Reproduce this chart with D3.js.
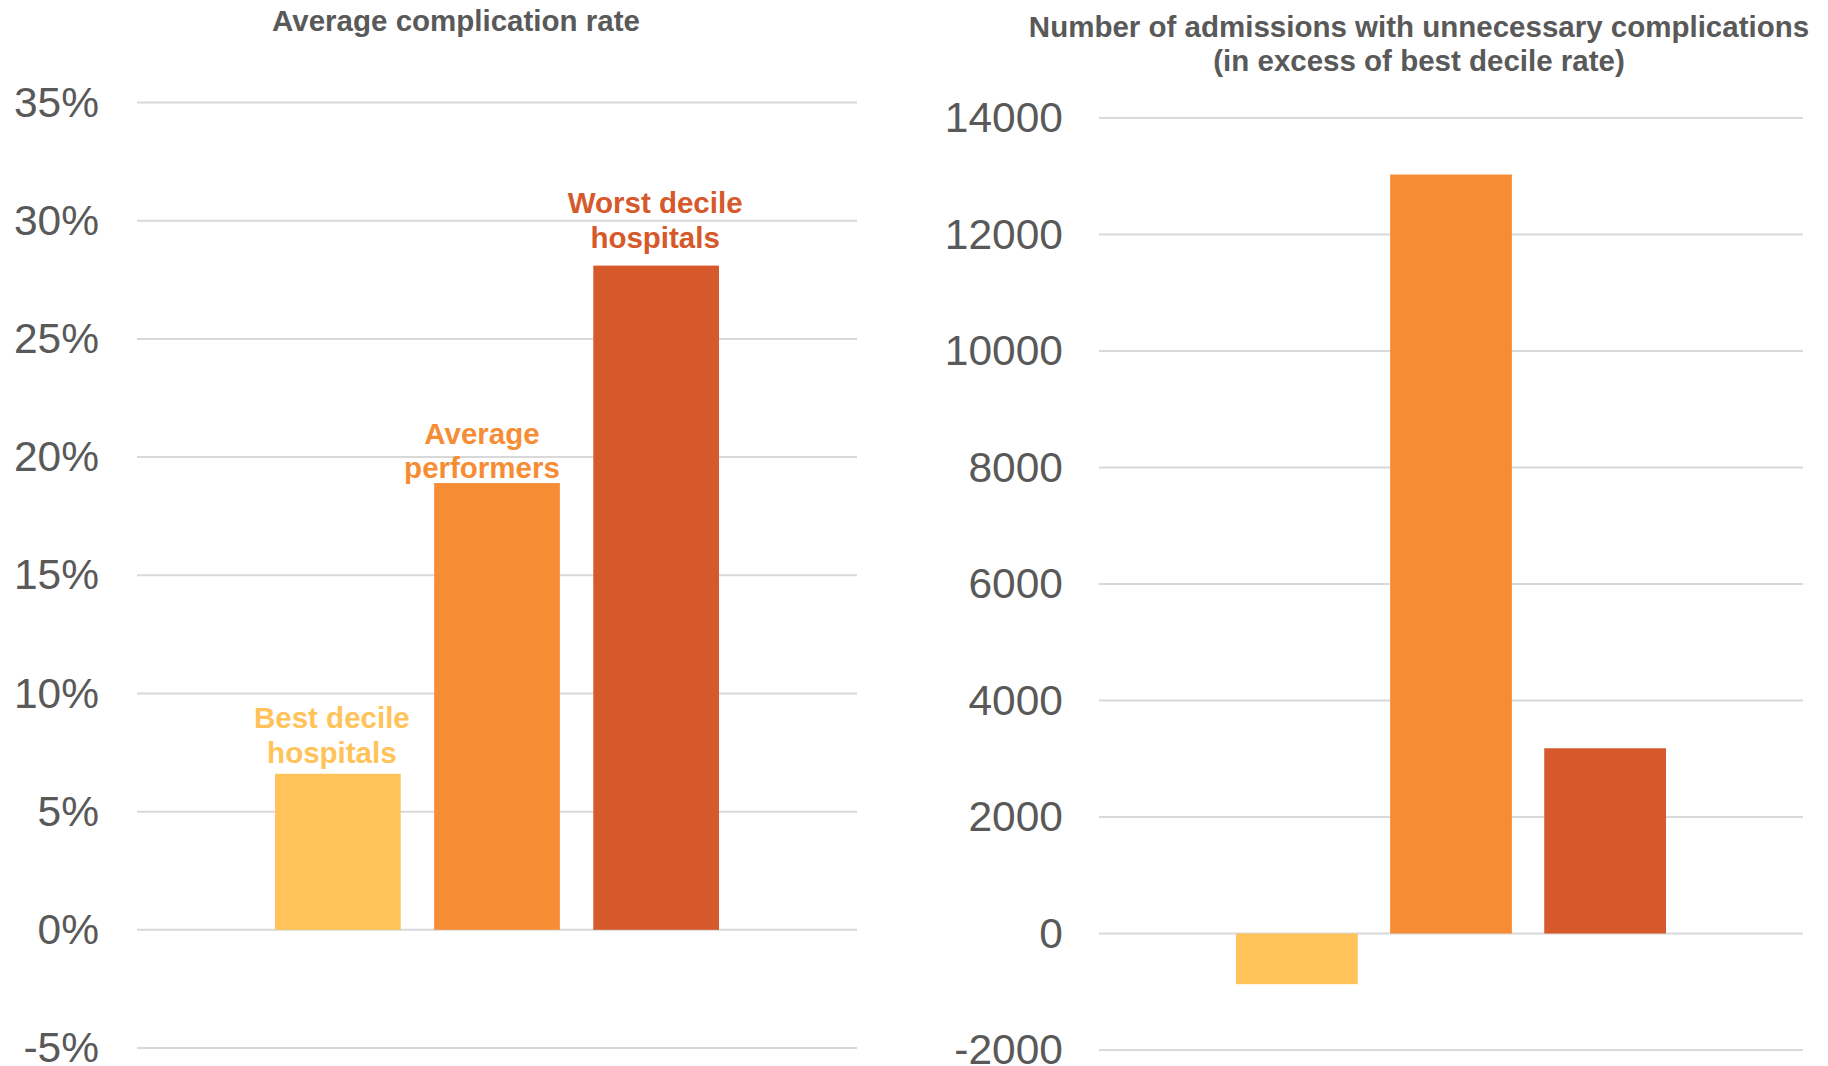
<!DOCTYPE html>
<html>
<head>
<meta charset="utf-8">
<script src="https://cdn.jsdelivr.net/npm/d3@7"></script>
<style>
  body { margin: 0; background: #fff; }
  svg { display: block; font-family: "Liberation Sans", Arial, sans-serif; }
</style>
</head>
<body>
<svg id="chart" width="1828" height="1066"></svg>
<script>
// series (one category, three hospital groups)
const seriesNames = ['Best decile hospitals', 'Average performers', 'Worst decile hospitals'];
const labelLines = [['Best decile', 'hospitals'], ['Average', 'performers'], ['Worst decile', 'hospitals']];
const seriesColors = ['#FFC35A', '#F68D35', '#D5592A'];

// left panel: average complication rate (%)
const rateValues = [6.6, 18.9, 28.1];
const rateTicks = [-5, 0, 5, 10, 15, 20, 25, 30, 35];

// right panel: admissions with unnecessary complications
const excessValues = [-870, 13030, 3180];
const excessTicks = [-2000, 0, 2000, 4000, 6000, 8000, 10000, 12000, 14000];

const textColor = '#595959';
const gridColor = '#D9D9D9';

const svg = d3.select('#chart');

// Function to draw one bar panel
function drawPanel(opts) {
  const y = d3.scaleLinear()
    .domain(d3.extent(opts.ticks))
    .range([opts.bottom, opts.top]);

  const x = d3.scaleBand()
    .domain(seriesNames)
    .range([opts.center - opts.groupWidth / 2, opts.center + opts.groupWidth / 2])
    .paddingInner(0.21)
    .paddingOuter(0);

  const g = svg.append('g');

  // gridlines
  g.selectAll('.grid')
    .data(opts.ticks)
    .enter().append('line')
      .attr('x1', opts.left)
      .attr('x2', opts.right)
      .attr('y1', d => y(d))
      .attr('y2', d => y(d))
      .attr('stroke', gridColor)
      .attr('stroke-width', 2);

  // y axis labels
  const axis = d3.axisLeft(y).tickValues(opts.ticks).tickFormat(opts.format).tickSize(0).tickPadding(0);
  const ax = g.append('g')
    .attr('transform', `translate(${opts.labelRight},0)`)
    .call(axis);
  ax.select('.domain').remove();
  ax.selectAll('text')
    .attr('fill', textColor)
    .style('font-size', '42.5px')
    .style('font-family', '"Liberation Sans", Arial, sans-serif');

  // bars
  g.selectAll('.bar')
    .data(opts.values)
    .enter().append('rect')
      .attr('x', (d, i) => x(seriesNames[i]))
      .attr('width', x.bandwidth())
      .attr('y', d => y(Math.max(0, d)))
      .attr('height', d => Math.abs(y(d) - y(0)))
      .attr('fill', (d, i) => seriesColors[i]);

  // title
  const title = g.append('text')
    .attr('x', opts.titleX)
    .attr('y', opts.titleY)
    .attr('text-anchor', 'middle')
    .attr('fill', textColor)
    .style('font-size', '29.5px')
    .style('font-weight', 'bold');
  opts.title.forEach((line, i) => {
    title.append('tspan').attr('x', opts.titleX).attr('dy', i === 0 ? 0 : 34.5).text(line);
  });

  return { x, y, g };
}

const left = drawPanel({
  values: rateValues,
  ticks: rateTicks,
  format: d => d + '%',
  top: 102.5, bottom: 1048,
  left: 137, right: 857,
  labelRight: 99,
  center: 497, groupWidth: 444,
  title: ['Average complication rate'],
  titleX: 456, titleY: 31
});

drawPanel({
  values: excessValues,
  ticks: excessTicks,
  format: d => d,
  top: 118, bottom: 1050,
  left: 1099, right: 1803,
  labelRight: 1063,
  center: 1451, groupWidth: 430,
  title: ['Number of admissions with unnecessary complications', '(in excess of best decile rate)'],
  titleX: 1419, titleY: 36.5
});

// data labels above the left bars (hand-placed in the original)
const labelShift = [[-6, -11], [-15, -5], [-1, -18]];
labelLines.forEach((lines, i) => {
  const cx = left.x(seriesNames[i]) + left.x.bandwidth() / 2 + labelShift[i][0];
  const base = left.y(rateValues[i]) + labelShift[i][1];
  const t = left.g.append('text')
    .attr('text-anchor', 'middle')
    .attr('fill', seriesColors[i])
    .style('font-size', '29.5px')
    .style('font-weight', 'bold');
  t.append('tspan').attr('x', cx).attr('y', base - 34.5).text(lines[0]);
  t.append('tspan').attr('x', cx).attr('y', base).text(lines[1]);
});
</script>
</body>
</html>
